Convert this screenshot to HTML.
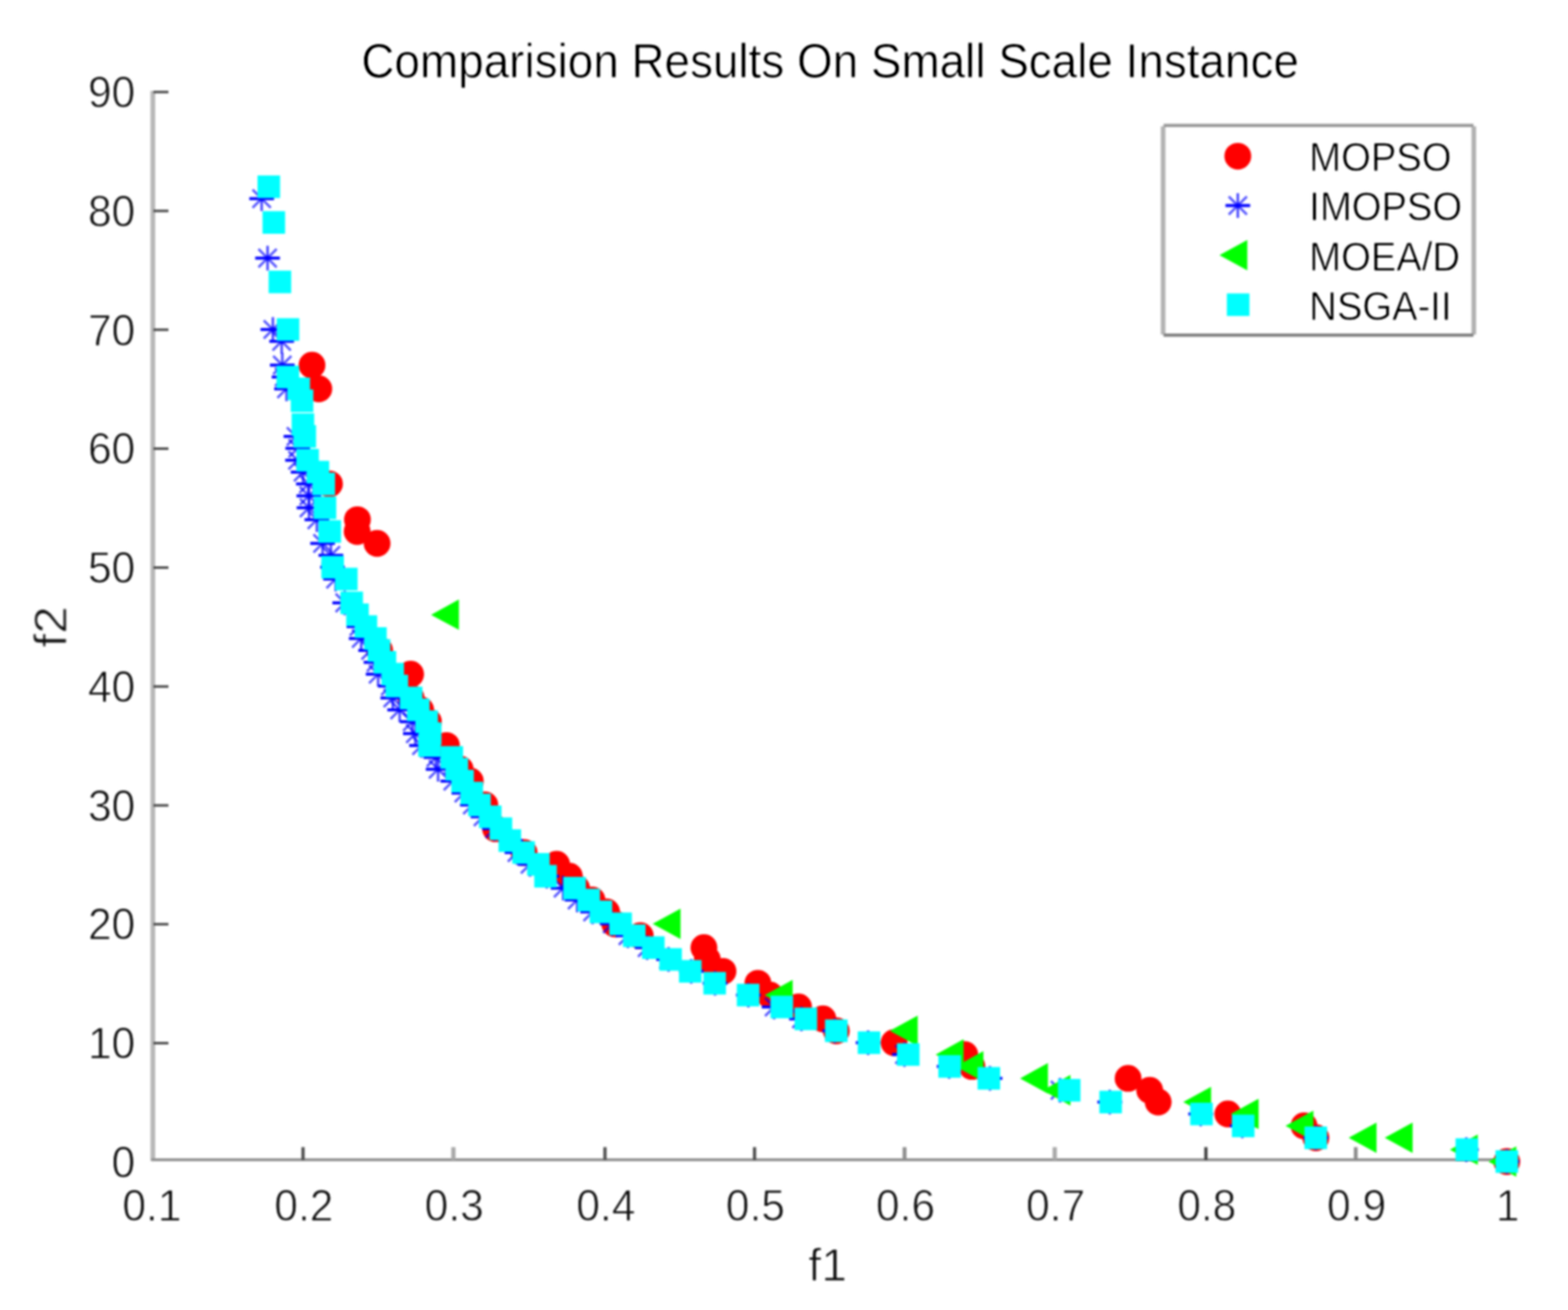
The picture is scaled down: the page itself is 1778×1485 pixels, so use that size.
<!DOCTYPE html>
<html lang="en">
<head>
<meta charset="utf-8">
<title>Comparision Results On Small Scale Instance</title>
<style>
html,body{margin:0;padding:0;background:#fff;}
body{width:1778px;height:1485px;overflow:hidden;}
svg{display:block;font-family:"Liberation Sans",sans-serif;}
text{stroke:#fff;paint-order:fill stroke;stroke-linejoin:round;}
</style>
</head>
<body>
<svg width="1778" height="1485" viewBox="0 0 1778 1485">
<defs>
<g id="st"><path d="M-14 0H14" stroke-width="3.4"/><path d="M0 -14V14" stroke-width="2.9" stroke-opacity="0.7"/><path d="M-10.3 -10.3L10.3 10.3 M-10.3 10.3L10.3 -10.3" stroke-width="2.8" stroke-opacity="0.66"/><circle r="2.6" fill="#0000ff" stroke="none"/></g>
<filter id="ba" color-interpolation-filters="sRGB" filterUnits="userSpaceOnUse" x="0" y="0" width="1778" height="1485"><feGaussianBlur stdDeviation="1.0"/></filter>
<filter id="bt" color-interpolation-filters="sRGB" filterUnits="userSpaceOnUse" x="0" y="0" width="1778" height="1485"><feGaussianBlur stdDeviation="1.0"/><feComponentTransfer><feFuncR type="linear" slope="1.15" intercept="-0.1"/><feFuncG type="linear" slope="1.15" intercept="-0.1"/><feFuncB type="linear" slope="1.15" intercept="-0.1"/></feComponentTransfer></filter>
<filter id="bm" color-interpolation-filters="sRGB" filterUnits="userSpaceOnUse" x="0" y="0" width="1778" height="1485"><feGaussianBlur stdDeviation="1.0"/></filter>
</defs>
<rect width="1778" height="1485" fill="#fff"/>
<g id="axes" filter="url(#ba)">
<rect x="170.6" y="103" width="5.4" height="1213" fill="#b8b8b8"/>
<rect x="171.5" y="1313.1" width="1537.5" height="3.2" fill="#8e8e8e"/>
<rect x="341.8" y="1300.4" width="3.6" height="14.5" fill="#4a4a4a"/>
<rect x="511.7" y="1300.4" width="4.8" height="14.5" fill="#a8a8a8"/>
<rect x="684.1" y="1300.4" width="3.8" height="14.5" fill="#555"/>
<rect x="853.8" y="1300.4" width="3.6" height="14.5" fill="#4a4a4a"/>
<rect x="1023.5" y="1300.4" width="4.4" height="14.5" fill="#8e8e8e"/>
<rect x="1193.6" y="1300.4" width="4.8" height="14.5" fill="#a8a8a8"/>
<rect x="1365.6" y="1300.4" width="3.6" height="14.5" fill="#3c3c3c"/>
<rect x="1535.2" y="1300.4" width="4.2" height="14.5" fill="#8a8a8a"/>
<g fill="#484848">
<rect x="174" y="1181.1" width="17" height="2.8"/>
<rect x="174" y="1046.3" width="17" height="2.8"/>
<rect x="174" y="911.6" width="17" height="2.8"/>
<rect x="174" y="776.8" width="17" height="2.8"/>
<rect x="174" y="642" width="17" height="2.8"/>
<rect x="174" y="507.2" width="17" height="2.8"/>
<rect x="174" y="372.4" width="17" height="2.8"/>
<rect x="174" y="237.7" width="17" height="2.8"/>
<rect x="174" y="102.9" width="17" height="2.8"/>
</g>
</g>
<g id="labels" filter="url(#bt)">
<text transform="translate(172.3,1383.6) scale(0.955,1.0)" text-anchor="middle" font-size="50.5" fill="#222" stroke-width="0.8">0.1</text>
<text transform="translate(344.6,1383.6) scale(0.955,1.0)" text-anchor="middle" font-size="50.5" fill="#222" stroke-width="0.8">0.2</text>
<text transform="translate(515.1,1383.6) scale(0.955,1.0)" text-anchor="middle" font-size="50.5" fill="#222" stroke-width="0.8">0.3</text>
<text transform="translate(687,1383.6) scale(0.955,1.0)" text-anchor="middle" font-size="50.5" fill="#222" stroke-width="0.8">0.4</text>
<text transform="translate(856.6,1383.6) scale(0.955,1.0)" text-anchor="middle" font-size="50.5" fill="#222" stroke-width="0.8">0.5</text>
<text transform="translate(1026.7,1383.6) scale(0.955,1.0)" text-anchor="middle" font-size="50.5" fill="#222" stroke-width="0.8">0.6</text>
<text transform="translate(1197,1383.6) scale(0.955,1.0)" text-anchor="middle" font-size="50.5" fill="#222" stroke-width="0.8">0.7</text>
<text transform="translate(1368.4,1383.6) scale(0.955,1.0)" text-anchor="middle" font-size="50.5" fill="#222" stroke-width="0.8">0.8</text>
<text transform="translate(1538.3,1383.6) scale(0.955,1.0)" text-anchor="middle" font-size="50.5" fill="#222" stroke-width="0.8">0.9</text>
<text transform="translate(1709.7,1383.6) scale(0.955,1.0)" text-anchor="middle" font-size="50.5" fill="#222" stroke-width="0.8">1</text>
<text transform="translate(153.4,1335) scale(0.955,1.0)" text-anchor="end" font-size="50.5" fill="#222" stroke-width="0.8">0</text>
<text transform="translate(153.4,1200.2) scale(0.955,1.0)" text-anchor="end" font-size="50.5" fill="#222" stroke-width="0.8">10</text>
<text transform="translate(153.4,1065.4) scale(0.955,1.0)" text-anchor="end" font-size="50.5" fill="#222" stroke-width="0.8">20</text>
<text transform="translate(153.4,930.7) scale(0.955,1.0)" text-anchor="end" font-size="50.5" fill="#222" stroke-width="0.8">30</text>
<text transform="translate(153.4,795.9) scale(0.955,1.0)" text-anchor="end" font-size="50.5" fill="#222" stroke-width="0.8">40</text>
<text transform="translate(153.4,661.1) scale(0.955,1.0)" text-anchor="end" font-size="50.5" fill="#222" stroke-width="0.8">50</text>
<text transform="translate(153.4,526.3) scale(0.955,1.0)" text-anchor="end" font-size="50.5" fill="#222" stroke-width="0.8">60</text>
<text transform="translate(153.4,391.5) scale(0.955,1.0)" text-anchor="end" font-size="50.5" fill="#222" stroke-width="0.8">70</text>
<text transform="translate(153.4,256.8) scale(0.955,1.0)" text-anchor="end" font-size="50.5" fill="#222" stroke-width="0.8">80</text>
<text transform="translate(153.4,122) scale(0.955,1.0)" text-anchor="end" font-size="50.5" fill="#222" stroke-width="0.8">90</text>
<text transform="translate(938.5,1451.8) scale(1.0,1.0)" text-anchor="middle" font-size="52.5" fill="#222" stroke-width="0.8">f1</text>
<text transform="translate(75.4,710.6) rotate(-90) scale(1.07,1.0)" text-anchor="middle" font-size="52.5" fill="#222" stroke-width="0.8">f2</text>
<text transform="translate(941.3,87.8) scale(1.0,1.07)" text-anchor="middle" font-size="52" fill="#000" letter-spacing="-0.01" stroke-width="0.8">Comparision Results On Small Scale Instance</text>
</g>
<g id="data" filter="url(#bm)">
<g fill="#ff0000">
<circle cx="353.8" cy="413.9" r="15.2"/>
<circle cx="361.5" cy="440.8" r="15.2"/>
<circle cx="373.6" cy="548.6" r="15.2"/>
<circle cx="405.3" cy="589.1" r="15.2"/>
<circle cx="405" cy="602.5" r="15.2"/>
<circle cx="427.6" cy="616" r="15.2"/>
<circle cx="430.5" cy="737.3" r="15.2"/>
<circle cx="465.6" cy="764.2" r="15.2"/>
<circle cx="466.2" cy="791.2" r="15.2"/>
<circle cx="477" cy="804.7" r="15.2"/>
<circle cx="485.8" cy="818.1" r="15.2"/>
<circle cx="506.2" cy="845.1" r="15.2"/>
<circle cx="521.8" cy="872" r="15.2"/>
<circle cx="533.3" cy="885.5" r="15.2"/>
<circle cx="549.8" cy="912.5" r="15.2"/>
<circle cx="562" cy="939.4" r="15.2"/>
<circle cx="594.3" cy="966.4" r="15.2"/>
<circle cx="631.2" cy="979.8" r="15.2"/>
<circle cx="645.6" cy="993.3" r="15.2"/>
<circle cx="653.7" cy="1006.8" r="15.2"/>
<circle cx="671.3" cy="1020.2" r="15.2"/>
<circle cx="687.8" cy="1033.7" r="15.2"/>
<circle cx="697.1" cy="1047.2" r="15.2"/>
<circle cx="726" cy="1060.7" r="15.2"/>
<circle cx="798.2" cy="1074.2" r="15.2"/>
<circle cx="802" cy="1087.6" r="15.2"/>
<circle cx="819.8" cy="1101.1" r="15.2"/>
<circle cx="859.4" cy="1114.6" r="15.2"/>
<circle cx="873" cy="1128" r="15.2"/>
<circle cx="905.5" cy="1141.5" r="15.2"/>
<circle cx="933.1" cy="1155" r="15.2"/>
<circle cx="948.3" cy="1168.5" r="15.2"/>
<circle cx="1013.9" cy="1182" r="15.2"/>
<circle cx="1094" cy="1195.4" r="15.2"/>
<circle cx="1102.1" cy="1208.9" r="15.2"/>
<circle cx="1279.2" cy="1222.4" r="15.2"/>
<circle cx="1303.7" cy="1235.9" r="15.2"/>
<circle cx="1313.3" cy="1249.3" r="15.2"/>
<circle cx="1392.3" cy="1262.8" r="15.2"/>
<circle cx="1478.7" cy="1276.3" r="15.2"/>
<circle cx="1492.1" cy="1289.8" r="15.2"/>
<circle cx="1708.6" cy="1316.7" r="15.2"/>
</g>
<g stroke="#0000ff" stroke-width="2.6" fill="none">
<use href="#st" x="296.7" y="225.2"/>
<use href="#st" x="303.4" y="292.6"/>
<use href="#st" x="309.4" y="373.5"/>
<use href="#st" x="319.4" y="386.9"/>
<use href="#st" x="320.1" y="413.9"/>
<use href="#st" x="322.1" y="427.4"/>
<use href="#st" x="324.9" y="440.8"/>
<use href="#st" x="335.6" y="494.7"/>
<use href="#st" x="337.6" y="508.2"/>
<use href="#st" x="337.4" y="521.7"/>
<use href="#st" x="343.7" y="535.2"/>
<use href="#st" x="349.7" y="548.6"/>
<use href="#st" x="350.2" y="562.1"/>
<use href="#st" x="350.4" y="575.6"/>
<use href="#st" x="359.3" y="589.1"/>
<use href="#st" x="365.8" y="616"/>
<use href="#st" x="375.2" y="629.5"/>
<use href="#st" x="377" y="643"/>
<use href="#st" x="380.5" y="656.4"/>
<use href="#st" x="390.9" y="683.4"/>
<use href="#st" x="407" y="710.3"/>
<use href="#st" x="409.6" y="723.8"/>
<use href="#st" x="420.3" y="737.3"/>
<use href="#st" x="426.4" y="750.8"/>
<use href="#st" x="428.8" y="764.2"/>
<use href="#st" x="442.6" y="777.7"/>
<use href="#st" x="445.4" y="791.2"/>
<use href="#st" x="453.2" y="804.7"/>
<use href="#st" x="467.5" y="818.1"/>
<use href="#st" x="471" y="831.6"/>
<use href="#st" x="478" y="845.1"/>
<use href="#st" x="494.3" y="858.6"/>
<use href="#st" x="496.8" y="872"/>
<use href="#st" x="513.5" y="885.5"/>
<use href="#st" x="526" y="899"/>
<use href="#st" x="535.6" y="912.5"/>
<use href="#st" x="547.7" y="925.9"/>
<use href="#st" x="560.9" y="939.4"/>
<use href="#st" x="579" y="952.9"/>
<use href="#st" x="586.2" y="966.4"/>
<use href="#st" x="601" y="979.8"/>
<use href="#st" x="620" y="993.3"/>
<use href="#st" x="638.5" y="1006.8"/>
<use href="#st" x="654.4" y="1020.2"/>
<use href="#st" x="672" y="1033.7"/>
<use href="#st" x="694.2" y="1047.2"/>
<use href="#st" x="712" y="1060.7"/>
<use href="#st" x="733.8" y="1074.2"/>
<use href="#st" x="758.1" y="1087.6"/>
<use href="#st" x="783.8" y="1101.1"/>
<use href="#st" x="810.8" y="1114.6"/>
<use href="#st" x="848.6" y="1128"/>
<use href="#st" x="877.8" y="1141.5"/>
<use href="#st" x="908.8" y="1155"/>
<use href="#st" x="946.6" y="1168.5"/>
<use href="#st" x="984.4" y="1182"/>
<use href="#st" x="1025.6" y="1195.4"/>
<use href="#st" x="1076.3" y="1208.9"/>
<use href="#st" x="1122.6" y="1222.4"/>
<use href="#st" x="1202" y="1235.9"/>
<use href="#st" x="1258.4" y="1249.3"/>
<use href="#st" x="1361.5" y="1262.8"/>
<use href="#st" x="1408.7" y="1276.3"/>
<use href="#st" x="1492" y="1289.8"/>
<use href="#st" x="1662.7" y="1303.2"/>
<use href="#st" x="1708.6" y="1316.7"/>
</g>
<g fill="#00ff00">
<polygon points="488.8,696.9 520.4,679.6 520.4,714.1"/>
<polygon points="740.1,1047.2 771.7,1029.9 771.7,1064.5"/>
<polygon points="867.2,1128 898.8,1110.8 898.8,1145.3"/>
<polygon points="1009,1168.5 1040.6,1151.2 1040.6,1185.8"/>
<polygon points="1061,1195.4 1092.6,1178.1 1092.6,1212.7"/>
<polygon points="1083.5,1208.9 1115.1,1191.6 1115.1,1226.2"/>
<polygon points="1156.7,1222.4 1188.3,1205.1 1188.3,1239.7"/>
<polygon points="1182.2,1235.9 1213.8,1218.6 1213.8,1253.2"/>
<polygon points="1341.7,1249.3 1373.3,1232 1373.3,1266.6"/>
<polygon points="1395.6,1262.8 1427.2,1245.5 1427.2,1280.1"/>
<polygon points="1457.7,1276.3 1489.3,1259 1489.3,1293.6"/>
<polygon points="1529.3,1289.8 1560.9,1272.5 1560.9,1307"/>
<polygon points="1570.2,1289.8 1601.8,1272.5 1601.8,1307"/>
<polygon points="1644.1,1303.2 1675.7,1285.9 1675.7,1320.5"/>
<polygon points="1687.8,1316.7 1719.4,1299.4 1719.4,1334"/>
</g>
<g fill="#00ffff">
<rect x="292" y="198.9" width="25.6" height="25.6"/>
<rect x="297.7" y="239.4" width="25.6" height="25.6"/>
<rect x="304.6" y="306.8" width="25.6" height="25.6"/>
<rect x="313.8" y="360.7" width="25.6" height="25.6"/>
<rect x="313.6" y="414.6" width="25.6" height="25.6"/>
<rect x="325.9" y="428" width="25.6" height="25.6"/>
<rect x="329.7" y="441.5" width="25.6" height="25.6"/>
<rect x="330.7" y="468.5" width="25.6" height="25.6"/>
<rect x="332.8" y="481.9" width="25.6" height="25.6"/>
<rect x="336" y="508.9" width="25.6" height="25.6"/>
<rect x="347.7" y="522.4" width="25.6" height="25.6"/>
<rect x="354.3" y="535.8" width="25.6" height="25.6"/>
<rect x="355.7" y="562.8" width="25.6" height="25.6"/>
<rect x="361.1" y="589.7" width="25.6" height="25.6"/>
<rect x="364.4" y="630.2" width="25.6" height="25.6"/>
<rect x="379.9" y="643.6" width="25.6" height="25.6"/>
<rect x="386" y="670.6" width="25.6" height="25.6"/>
<rect x="392.6" y="684.1" width="25.6" height="25.6"/>
<rect x="402.1" y="697.5" width="25.6" height="25.6"/>
<rect x="412.9" y="711" width="25.6" height="25.6"/>
<rect x="417" y="724.5" width="25.6" height="25.6"/>
<rect x="423.7" y="738" width="25.6" height="25.6"/>
<rect x="432.5" y="751.4" width="25.6" height="25.6"/>
<rect x="437.2" y="764.9" width="25.6" height="25.6"/>
<rect x="453.4" y="778.4" width="25.6" height="25.6"/>
<rect x="461.5" y="791.9" width="25.6" height="25.6"/>
<rect x="471" y="805.3" width="25.6" height="25.6"/>
<rect x="475" y="818.8" width="25.6" height="25.6"/>
<rect x="474.2" y="832.3" width="25.6" height="25.6"/>
<rect x="499.5" y="845.8" width="25.6" height="25.6"/>
<rect x="505.2" y="859.2" width="25.6" height="25.6"/>
<rect x="511.7" y="872.7" width="25.6" height="25.6"/>
<rect x="522.1" y="886.2" width="25.6" height="25.6"/>
<rect x="530.9" y="899.7" width="25.6" height="25.6"/>
<rect x="543.1" y="913.1" width="25.6" height="25.6"/>
<rect x="555.2" y="926.6" width="25.6" height="25.6"/>
<rect x="565.3" y="940.1" width="25.6" height="25.6"/>
<rect x="580.9" y="953.6" width="25.6" height="25.6"/>
<rect x="597.7" y="967" width="25.6" height="25.6"/>
<rect x="605.8" y="980.5" width="25.6" height="25.6"/>
<rect x="638.7" y="994" width="25.6" height="25.6"/>
<rect x="654.7" y="1007.5" width="25.6" height="25.6"/>
<rect x="668.6" y="1020.9" width="25.6" height="25.6"/>
<rect x="690.9" y="1034.4" width="25.6" height="25.6"/>
<rect x="706.4" y="1047.9" width="25.6" height="25.6"/>
<rect x="728" y="1061.4" width="25.6" height="25.6"/>
<rect x="747.6" y="1074.8" width="25.6" height="25.6"/>
<rect x="769.9" y="1088.3" width="25.6" height="25.6"/>
<rect x="797.6" y="1101.8" width="25.6" height="25.6"/>
<rect x="835.5" y="1115.2" width="25.6" height="25.6"/>
<rect x="873.7" y="1128.7" width="25.6" height="25.6"/>
<rect x="901" y="1142.2" width="25.6" height="25.6"/>
<rect x="935.5" y="1155.7" width="25.6" height="25.6"/>
<rect x="972.6" y="1169.2" width="25.6" height="25.6"/>
<rect x="1017.1" y="1182.6" width="25.6" height="25.6"/>
<rect x="1064" y="1196.1" width="25.6" height="25.6"/>
<rect x="1108.5" y="1209.6" width="25.6" height="25.6"/>
<rect x="1199.6" y="1223.1" width="25.6" height="25.6"/>
<rect x="1246.6" y="1236.5" width="25.6" height="25.6"/>
<rect x="1349.6" y="1250" width="25.6" height="25.6"/>
<rect x="1396.9" y="1263.5" width="25.6" height="25.6"/>
<rect x="1479.2" y="1277" width="25.6" height="25.6"/>
<rect x="1650.5" y="1290.4" width="25.6" height="25.6"/>
<rect x="1695.8" y="1303.9" width="25.6" height="25.6"/>
</g>
</g>
<g id="legend" filter="url(#bm)">
<rect x="1318.9" y="142.2" width="352.3" height="237.7" fill="#fff"/>
<rect x="1316.3" y="143.2" width="5.2" height="236" fill="#b3b3b3"/>
<rect x="1668.6" y="143.2" width="5.2" height="236" fill="#b0b0b0"/>
<rect x="1319.4" y="140.4" width="351.4" height="3.6" fill="#979797"/>
<rect x="1319.4" y="378.1" width="351.4" height="3.6" fill="#7d7d7d"/>
<circle cx="1403.6" cy="177.1" r="15.2" fill="#ff0000"/>
<use href="#st" x="1403.6" y="233" stroke="#0000ff" stroke-width="2.6" fill="none"/>
<polygon points="1382.8,289.2 1414.4,271.9 1414.4,306.5" fill="#00ff00"/>
<rect x="1391.2" y="332.6" width="25.6" height="25.6" fill="#00ffff"/>
</g>
<g id="legendtext" filter="url(#bt)">
<text transform="translate(1484.6,193.8) scale(0.985,1.06)" text-anchor="start" font-size="44" fill="#000" stroke-width="0.8">MOPSO</text>
<text transform="translate(1484.6,250.2) scale(0.985,1.06)" text-anchor="start" font-size="44" fill="#000" stroke-width="0.8">IMOPSO</text>
<text transform="translate(1484.6,306.7) scale(0.985,1.06)" text-anchor="start" font-size="44" fill="#000" stroke-width="0.8">MOEA/D</text>
<text transform="translate(1484.6,363.2) scale(0.985,1.06)" text-anchor="start" font-size="44" fill="#000" stroke-width="0.8">NSGA-II</text>
</g>
</svg>
</body>
</html>
